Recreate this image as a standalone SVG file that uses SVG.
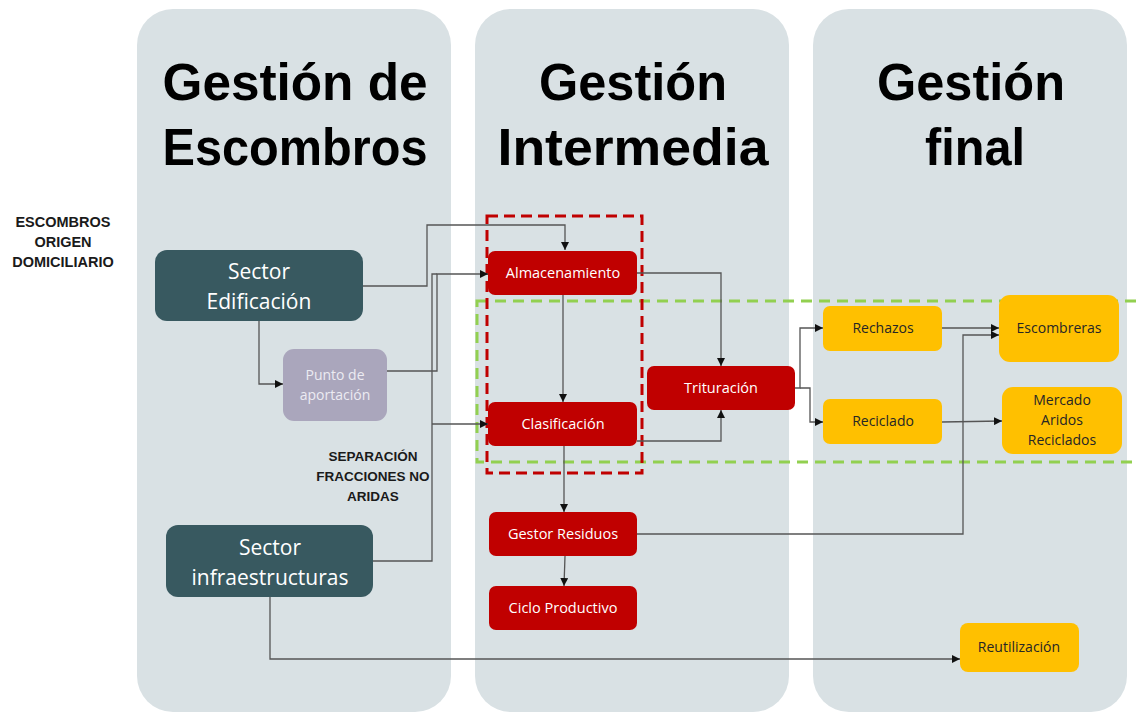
<svg xmlns="http://www.w3.org/2000/svg" width="1136" height="713" viewBox="0 0 1136 713">
<defs>
<marker id="ah" viewBox="0 0 10 10" refX="10" refY="5" markerWidth="8" markerHeight="8" markerUnits="userSpaceOnUse" orient="auto">
<path d="M0,0 L10,5 L0,10 z" fill="#111"/>
</marker>
<style>
.col{fill:#d9e1e4}
.title{font-family:"Liberation Sans",Arial,sans-serif;font-weight:bold;font-size:52px;fill:#000;text-anchor:middle}
.lbl{font-family:"Liberation Sans",Arial,sans-serif;font-weight:bold;font-size:13.5px;fill:#1a1a1a;text-anchor:middle}
.lbl2{font-family:"Liberation Sans",Arial,sans-serif;font-weight:bold;font-size:14.5px;fill:#1a1a1a;text-anchor:middle}
.sec{fill:#385960}
.sect{font-family:"Open Sans","Liberation Sans",sans-serif;font-size:21px;fill:#fff;text-anchor:middle}
.red{fill:#c00000}
.redt{font-family:"Open Sans","Liberation Sans",sans-serif;font-size:14.5px;fill:#fff;text-anchor:middle}
.yel{fill:#ffc000}
.yelt{font-family:"Open Sans","Liberation Sans",sans-serif;font-size:14px;fill:#262626;text-anchor:middle}
.con{fill:none;stroke:#555;stroke-width:1.3;marker-end:url(#ah)}
.conn{fill:none;stroke:#555;stroke-width:1.3}
</style>
</defs>
<rect width="1136" height="713" fill="#fff"/>
<g id="columns">
<rect class="col" x="137" y="9" width="314" height="703" rx="36"/>
<rect class="col" x="475" y="9" width="314" height="703" rx="36"/>
<rect class="col" x="813" y="9" width="314" height="703" rx="36"/>
<text class="title" x="295" y="100" textLength="265" lengthAdjust="spacingAndGlyphs">Gestión de</text>
<text class="title" x="295" y="165" textLength="265" lengthAdjust="spacingAndGlyphs">Escombros</text>
<text class="title" x="633" y="100" textLength="188" lengthAdjust="spacingAndGlyphs">Gestión</text>
<text class="title" x="633" y="165" textLength="271" lengthAdjust="spacingAndGlyphs">Intermedia</text>
<text class="title" x="971" y="100" textLength="188" lengthAdjust="spacingAndGlyphs">Gestión</text>
<text class="title" x="975" y="165" textLength="100" lengthAdjust="spacingAndGlyphs">final</text>
</g>
<g id="labels">
<text class="lbl2" x="63" y="227">ESCOMBROS</text>
<text class="lbl2" x="63" y="247">ORIGEN</text>
<text class="lbl2" x="63" y="267">DOMICILIARIO</text>
<text class="lbl" x="373" y="461">SEPARACIÓN</text>
<text class="lbl" x="373" y="481">FRACCIONES NO</text>
<text class="lbl" x="373" y="501">ARIDAS</text>
</g>
<g id="groups">
<rect x="477" y="301" width="670" height="161" fill="none" stroke="#92d050" stroke-width="3" stroke-dasharray="11 7"/>
<rect x="487" y="216" width="155" height="257" fill="none" stroke="#c00000" stroke-width="3" stroke-dasharray="11 6"/>
</g>
<g id="connectors">
<polyline class="con" points="363,286 427,286 427,225 565,225 565,250"/>
<polyline class="con" points="259,321 259,384 283,384"/>
<polyline class="con" points="387,371 437,371 437,274 488,274"/>
<polyline class="conn" points="373,561 432,561 432,274 437,274"/>
<polyline class="con" points="432,424 488,424"/>
<polyline class="con" points="563,295 563,402"/>
<polyline class="con" points="637,273 721,273 721,366"/>
<polyline class="con" points="637,441 721,441 721,410"/>
<polyline class="con" points="564,446 564,512"/>
<polyline class="con" points="565,556 564,586"/>
<polyline class="con" points="637,534 963,534 963,335 999,335"/>
<polyline class="con" points="270,597 270,659 960,659"/>
<polyline class="con" points="795,388 800,388 800,328 823,328"/>
<polyline class="con" points="800,388 810,388 810,422 823,422"/>
<polyline class="con" points="942,328 999,328"/>
<polyline class="con" points="942,422 1002,421"/>
</g>
<g id="sector-edificacion">
<rect class="sec" x="155" y="250" width="208" height="71" rx="12"/>
<text class="sect" x="259" y="279">Sector</text>
<text class="sect" x="259" y="309">Edificación</text>
</g>
<g id="punto-aportacion">
<rect x="283" y="349" width="104" height="72" rx="11" fill="#aaa6bc"/>
<text x="335" y="380" font-family="'Open Sans','Liberation Sans',sans-serif" font-size="14" fill="#ecebf2" text-anchor="middle">Punto de</text>
<text x="335" y="400" font-family="'Open Sans','Liberation Sans',sans-serif" font-size="14" fill="#ecebf2" text-anchor="middle">aportación</text>
</g>
<g id="sector-infraestructuras">
<rect class="sec" x="166" y="525" width="207" height="72" rx="12"/>
<text class="sect" x="270" y="555">Sector</text>
<text class="sect" x="270" y="585">infraestructuras</text>
</g>
<g id="almacenamiento">
<rect class="red" x="488" y="251" width="149" height="44" rx="7"/>
<text class="redt" x="563" y="278">Almacenamiento</text>
</g>
<g id="clasificacion">
<rect class="red" x="488" y="402" width="149" height="44" rx="7"/>
<text class="redt" x="563" y="429">Clasificación</text>
</g>
<g id="trituracion">
<rect class="red" x="647" y="366" width="148" height="44" rx="7"/>
<text class="redt" x="721" y="393">Trituración</text>
</g>
<g id="gestor-residuos">
<rect class="red" x="489" y="512" width="148" height="44" rx="7"/>
<text class="redt" x="563" y="539">Gestor Residuos</text>
</g>
<g id="ciclo-productivo">
<rect class="red" x="489" y="586" width="148" height="44" rx="7"/>
<text class="redt" x="563" y="613">Ciclo Productivo</text>
</g>
<g id="rechazos">
<rect class="yel" x="823" y="306" width="119" height="45" rx="7"/>
<text class="yelt" x="883" y="333">Rechazos</text>
</g>
<g id="reciclado">
<rect class="yel" x="823" y="399" width="119" height="45" rx="7"/>
<text class="yelt" x="883" y="426">Reciclado</text>
</g>
<g id="escombreras">
<rect class="yel" x="999" y="295" width="120" height="67" rx="11"/>
<text class="yelt" x="1059" y="333">Escombreras</text>
</g>
<g id="mercado">
<rect class="yel" x="1002" y="387" width="120" height="67" rx="11"/>
<text class="yelt" x="1062" y="405">Mercado</text>
<text class="yelt" x="1062" y="425">Aridos</text>
<text class="yelt" x="1062" y="445">Reciclados</text>
</g>
<g id="reutilizacion">
<rect class="yel" x="960" y="623" width="119" height="49" rx="8"/>
<text class="yelt" x="1019" y="652">Reutilización</text>
</g>
</svg>
